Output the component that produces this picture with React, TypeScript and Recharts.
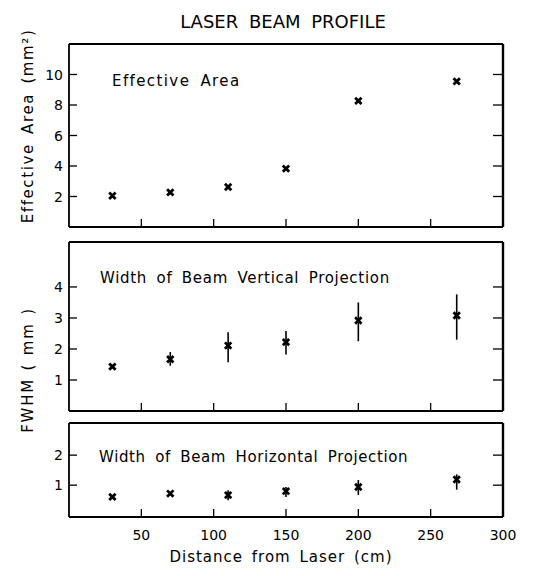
import React from 'react';
import { ScatterChart, Scatter, XAxis, YAxis, ErrorBar } from 'recharts';

// ---- data ----
const distances = [30, 70, 110, 150, 200, 268];
const effectiveArea = [2.05, 2.27, 2.62, 3.83, 8.27, 9.55];
const verticalFwhm = [1.43, 1.67, 2.11, 2.22, 2.92, 3.08];
const verticalErrLow = [0, 0.21, 0.54, 0.4, 0.67, 0.78];
const verticalErrHigh = [0, 0.23, 0.43, 0.36, 0.58, 0.68];
const horizontalFwhm = [0.61, 0.72, 0.67, 0.8, 0.94, 1.19];
const horizontalErrLow = [0, 0.05, 0.17, 0.19, 0.27, 0.34];
const horizontalErrHigh = [0, 0.05, 0.16, 0.14, 0.23, 0.17];

const xTicks = [50, 100, 150, 200, 250, 300];
const xTickLabels = ['50', '100', '150', '200', '250', '300'];
const areaTicks = [2, 4, 6, 8, 10];
const verticalTicks = [1, 2, 3, 4];
const horizontalTicks = [1, 2];

const FONT = '"DejaVu Sans", Verdana, sans-serif';
const TICK = 8;
const AXIS_W = 1.8;

const rows = (ys: number[], lo?: number[], hi?: number[]) =>
  distances.map((d, i) => ({ x: d, y: ys[i], err: lo && hi ? [lo[i], hi[i]] : undefined }));

const areaRows = rows(effectiveArea);
const vertRows = rows(verticalFwhm, verticalErrLow, verticalErrHigh);
const horzRows = rows(horizontalFwhm, horizontalErrLow, horizontalErrHigh);

const Cross = (props: any) => {
  const { cx, cy } = props;
  if (cx == null || cy == null) return null;
  const s = 3.2;
  return (
    <path
      d={`M${cx - s},${cy - s}L${cx + s},${cy + s}M${cx + s},${cy - s}L${cx - s},${cy + s}`}
      stroke="#000"
      strokeWidth={2.8}
      fill="none"
    />
  );
};

const LeftTick = (props: any) => {
  const { x, y, payload } = props;
  const v = payload.value;
  return (
    <g>
      <line x1={x} y1={y} x2={x + TICK} y2={y} stroke="#000" strokeWidth={1.3} />
      <text x={x - 6} y={y} dy="0.36em" textAnchor="end" fontSize={14} fontFamily={FONT} fill="#000">
        {String(v)}
      </text>
    </g>
  );
};

const RightTick = (props: any) => {
  const { x, y } = props;
  return <line x1={x - TICK - 2} y1={y} x2={x} y2={y} stroke="#000" strokeWidth={1.3} />;
};

const TopTick = (props: any) => {
  const { x, y, payload } = props;
  if (payload.value >= 300) return <g />;
  return <line x1={x} y1={y} x2={x} y2={y + TICK} stroke="#000" strokeWidth={1.3} />;
};

const BottomTick = (props: any) => {
  const { x, y, payload } = props;
  if (payload.value >= 300) return <g />;
  return <line x1={x} y1={y} x2={x} y2={y - TICK} stroke="#000" strokeWidth={1.3} />;
};

const BottomTickLabeled = (props: any) => {
  const { x, y, payload } = props;
  const idx = xTicks.indexOf(payload.value);
  return (
    <g>
      {payload.value < 300 && <line x1={x} y1={y} x2={x} y2={y - TICK} stroke="#000" strokeWidth={1.3} />}
      <text x={x} y={y + 22.5} textAnchor="middle" fontSize={14} fontFamily={FONT} fill="#000">
        {xTickLabels[idx]}
      </text>
    </g>
  );
};

const axisLine = { stroke: '#000', strokeWidth: AXIS_W };

function Panel(props: {
  top: number;
  height: number;
  marginTop: number;
  marginBottom: number;
  data: any[];
  yDomain: [number, number];
  yTicks: number[];
  labeledX?: boolean;
  withErr?: boolean;
}) {
  const { top, height, marginTop, marginBottom, data, yDomain, yTicks, labeledX, withErr } = props;
  return (
    <div style={{ position: 'absolute', left: 0, top, width: 558, height }}>
      <ScatterChart
        width={558}
        height={height}
        margin={{ top: marginTop - 1, right: 54, bottom: marginBottom - 1, left: 68 }}
      >
        <XAxis
          xAxisId="b"
          dataKey="x"
          type="number"
          domain={[0, 300]}
          ticks={xTicks}
          interval={0}
          height={1}
          tickSize={0}
          tickMargin={0}
          tickLine={false}
          axisLine={axisLine}
          tick={labeledX ? <BottomTickLabeled /> : <BottomTick />}
          allowDataOverflow
        />
        <XAxis
          xAxisId="t"
          orientation="top"
          type="number"
          domain={[0, 300]}
          ticks={xTicks}
          interval={0}
          height={1}
          tickSize={0}
          tickMargin={0}
          tickLine={false}
          axisLine={axisLine}
          tick={<TopTick />}
          allowDataOverflow
        />
        <YAxis
          yAxisId="l"
          dataKey="y"
          type="number"
          domain={yDomain}
          ticks={yTicks}
          interval={0}
          width={1}
          tickSize={0}
          tickMargin={0}
          tickLine={false}
          axisLine={axisLine}
          tick={<LeftTick />}
          allowDataOverflow
        />
        <YAxis
          yAxisId="r"
          orientation="right"
          type="number"
          domain={yDomain}
          ticks={yTicks}
          interval={0}
          width={1}
          tickSize={0}
          tickMargin={0}
          tickLine={false}
          axisLine={{ stroke: '#000', strokeWidth: 2.4 }}
          tick={<RightTick />}
          allowDataOverflow
        />
        <Scatter
          xAxisId="b"
          yAxisId="l"
          data={data}
          dataKey="y"
          shape={<Cross />}
          isAnimationActive={false}
        >
          {withErr && (
            <ErrorBar dataKey="err" direction="y" width={0} stroke="#000" strokeWidth={1.6} />
          )}
        </Scatter>
        <Scatter xAxisId="t" yAxisId="r" data={[]} dataKey="y" isAnimationActive={false} />
      </ScatterChart>
    </div>
  );
}

export default function App() {
  const textStyle = { fontFamily: FONT, fill: '#000' } as any;
  return (
    <div style={{ position: 'absolute', left: 0, top: 0, width: 558, height: 576, background: '#fff' }}>
      <Panel top={0} height={240} marginTop={44} marginBottom={13} data={areaRows} yDomain={[0, 12]} yTicks={areaTicks} />
      <Panel top={234} height={184} marginTop={8} marginBottom={7} data={vertRows} yDomain={[0, 5.45]} yTicks={verticalTicks} withErr />
      <Panel top={415} height={161} marginTop={8} marginBottom={59} data={horzRows} yDomain={[-0.06, 3.07]} yTicks={horizontalTicks} labeledX withErr />
      <svg
        width={558}
        height={576}
        style={{ position: 'absolute', left: 0, top: 0, pointerEvents: 'none' }}
      >
        <text x={283} y={28} textAnchor="middle" fontSize={18} wordSpacing={5} {...textStyle}>
          LASER BEAM PROFILE
        </text>
        <text x={112} y={86} fontSize={15} letterSpacing={1.4} wordSpacing={4} {...textStyle}>
          Effective Area
        </text>
        <text x={100} y={283} fontSize={15} letterSpacing={0.7} wordSpacing={4} {...textStyle}>
          Width of Beam Vertical Projection
        </text>
        <text x={99} y={462} fontSize={15} letterSpacing={0.63} wordSpacing={4} {...textStyle}>
          Width of Beam Horizontal Projection
        </text>
        <text
          transform="translate(33,126) rotate(-90)"
          textAnchor="middle"
          fontSize={15}
          letterSpacing={1.6}
          wordSpacing={3}
          {...textStyle}
        >
          Effective Area (mm²)
        </text>
        <text
          transform="translate(33,370) rotate(-90)"
          textAnchor="middle"
          fontSize={15}
          letterSpacing={1.8}
          wordSpacing={1}
          {...textStyle}
        >
          FWHM ( mm )
        </text>
        <text x={281} y={562} textAnchor="middle" fontSize={15} letterSpacing={1} wordSpacing={3} {...textStyle}>
          Distance from Laser (cm)
        </text>
      </svg>
    </div>
  );
}
